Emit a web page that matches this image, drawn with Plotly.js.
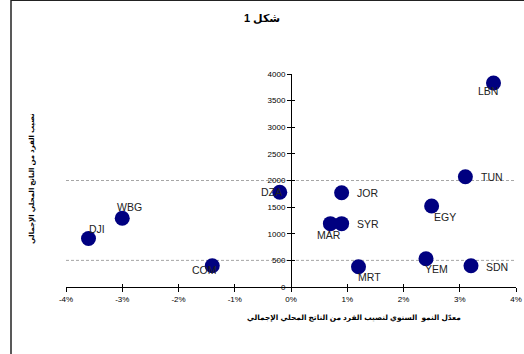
<!DOCTYPE html>
<html>
<head>
<meta charset="utf-8">
<script src="https://cdn.plot.ly/plotly-3.0.1.min.js"></script>
<style>
  html, body { margin: 0; padding: 0; background: #fff; }
  #chart { width: 524px; height: 354px; }
</style>
</head>
<body>
<div id="chart"></div>
<script>
// Country codes, annual per-capita GDP growth (%) and GDP per capita
const countries = ['LBN', 'TUN', 'DZA', 'JOR', 'EGY', 'MAR', 'SYR', 'YEM', 'SDN', 'MRT', 'WBG', 'DJI', 'COM'];
const growthPct = [3.6, 3.1, -0.2, 0.9, 2.5, 0.7, 0.9, 2.4, 3.2, 1.2, -3.0, -3.6, -1.4];
const gdpPerCapita = [3830, 2070, 1780, 1770, 1520, 1190, 1190, 530, 400, 380, 1290, 910, 400];

// Dashed reference levels across the plot
const referenceLevels = [500, 2000];

// Axis ticks
const xTicks = [-4, -3, -2, -1, 0, 1, 2, 3, 4];
const yTicks = [0, 500, 1000, 1500, 2000, 2500, 3000, 3500, 4000];

// Text
const chartTitle = 'شكل 1';
const xTitle = 'معدّل النمو  السنوي لنصيب الفرد من الناتج المحلي الإجمالي';
const yTitle = 'نصيب الفرد من الناتج المحلي الإجمالي';

// Label placement (pixel offsets from each marker centre)
const labelShift = {
  LBN: [-6, -8], TUN: [27, 0], DZA: [-8, 0], JOR: [26, 0], EGY: [13, -11],
  MAR: [-1, -11], SYR: [26, 0], YEM: [10, -10], SDN: [26, -1], MRT: [11, -10],
  WBG: [7, 11], DJI: [8, 10], COM: [-8, -4]
};

const FONT = 'Arial, "Liberation Sans", "DejaVu Sans", sans-serif';
const XRANGE = [-4, 4];
const YRANGE = [0, 4000];

const points = {
  type: 'scatter',
  mode: 'markers',
  x: growthPct,
  y: gdpPerCapita,
  marker: { color: '#000080', size: 15, line: { width: 0 } },
  hoverinfo: 'skip',
  showlegend: false,
  xaxis: 'x', yaxis: 'y'
};

// empty traces so the tick-overlay axes get drawn
const xOverlay = { type: 'scatter', x: [], y: [], xaxis: 'x2', yaxis: 'y', showlegend: false, hoverinfo: 'skip' };
const yOverlay = { type: 'scatter', x: [], y: [], xaxis: 'x', yaxis: 'y2', showlegend: false, hoverinfo: 'skip' };

const pointLabels = countries.map((c, i) => ({
  x: growthPct[i], y: gdpPerCapita[i], xref: 'x', yref: 'y',
  text: c, showarrow: false,
  xshift: labelShift[c][0], yshift: labelShift[c][1],
  font: { family: FONT, size: 10.5, color: '#222' }
}));

const plotW = 524 - 66 - 8;
const plotH = 354 - 74 - 67;

const annotations = pointLabels.concat([
  {
    text: '<b>' + xTitle + '</b>', xref: 'paper', yref: 'paper',
    x: (354 - 66) / plotW, y: (287 - 317) / plotH, showarrow: false,
    xanchor: 'center', yanchor: 'middle',
    font: { family: FONT, size: 7.4, color: '#000' }
  },
  {
    text: '<b>' + yTitle + '</b>', xref: 'paper', yref: 'paper',
    x: (32 - 66) / plotW, y: (287 - 179) / plotH, showarrow: false,
    textangle: -90, xanchor: 'center', yanchor: 'middle',
    font: { family: FONT, size: 7, color: '#000' }
  }
]);

const shapes = referenceLevels.map(v => ({
  type: 'line', xref: 'paper', yref: 'y', x0: 0, x1: 1, y0: v, y1: v,
  line: { color: '#a6a6a6', width: 1, dash: '3px,2px' }, layer: 'below'
})).concat([
  // chart frame (top and left edges)
  { type: 'line', xref: 'paper', yref: 'paper',
    x0: (11 - 66) / plotW, x1: (530 - 66) / plotW, y0: 1 + 74 / plotH, y1: 1 + 74 / plotH,
    line: { color: '#222', width: 2 } },
  { type: 'line', xref: 'paper', yref: 'paper',
    x0: (11 - 66) / plotW, x1: (11 - 66) / plotW, y0: 1 + 74 / plotH, y1: -67 / plotH - 0.05,
    line: { color: '#222', width: 1.5 } }
]);

const axisFont = { family: FONT, size: 8, color: '#000' };

const layout = {
  width: 524, height: 354,
  margin: { l: 66, r: 8, t: 74, b: 67, pad: 0 },
  paper_bgcolor: '#fff', plot_bgcolor: '#fff',
  title: {
    text: '<b>' + chartTitle + '</b>',
    font: { family: FONT, size: 11, color: '#000' },
    xref: 'container', x: 0.5, xanchor: 'center',
    yref: 'container', y: 1 - 18 / 354, yanchor: 'middle'
  },
  xaxis: {
    range: XRANGE, tickvals: xTicks, ticktext: xTicks.map(v => v + '%'),
    showline: true, linecolor: '#000', linewidth: 1,
    ticks: 'outside', ticklen: 4, tickcolor: '#000', tickwidth: 1,
    tickfont: axisFont, showgrid: false, zeroline: false,
    anchor: 'y', fixedrange: true
  },
  xaxis2: {
    range: XRANGE, tickvals: xTicks, overlaying: 'x', anchor: 'y',
    ticks: 'inside', ticklen: 3, tickcolor: '#000', tickwidth: 1,
    showticklabels: false, showline: false, showgrid: false, zeroline: false
  },
  yaxis: {
    range: YRANGE, tickvals: yTicks,
    anchor: 'free', position: (0 - XRANGE[0]) / (XRANGE[1] - XRANGE[0]),
    showline: true, linecolor: '#000', linewidth: 1,
    ticks: 'outside', ticklen: 4, tickcolor: '#000', tickwidth: 1,
    tickfont: axisFont, showgrid: false, zeroline: false, fixedrange: true
  },
  yaxis2: {
    range: YRANGE, tickvals: yTicks, overlaying: 'y',
    anchor: 'free', position: (0 - XRANGE[0]) / (XRANGE[1] - XRANGE[0]),
    ticks: 'inside', ticklen: 3, tickcolor: '#000', tickwidth: 1,
    showticklabels: false, showline: false, showgrid: false, zeroline: false
  },
  showlegend: false,
  annotations: annotations,
  shapes: shapes
};

Plotly.newPlot('chart', [xOverlay, yOverlay, points], layout, { displayModeBar: false, staticPlot: true });
</script>
</body>
</html>
